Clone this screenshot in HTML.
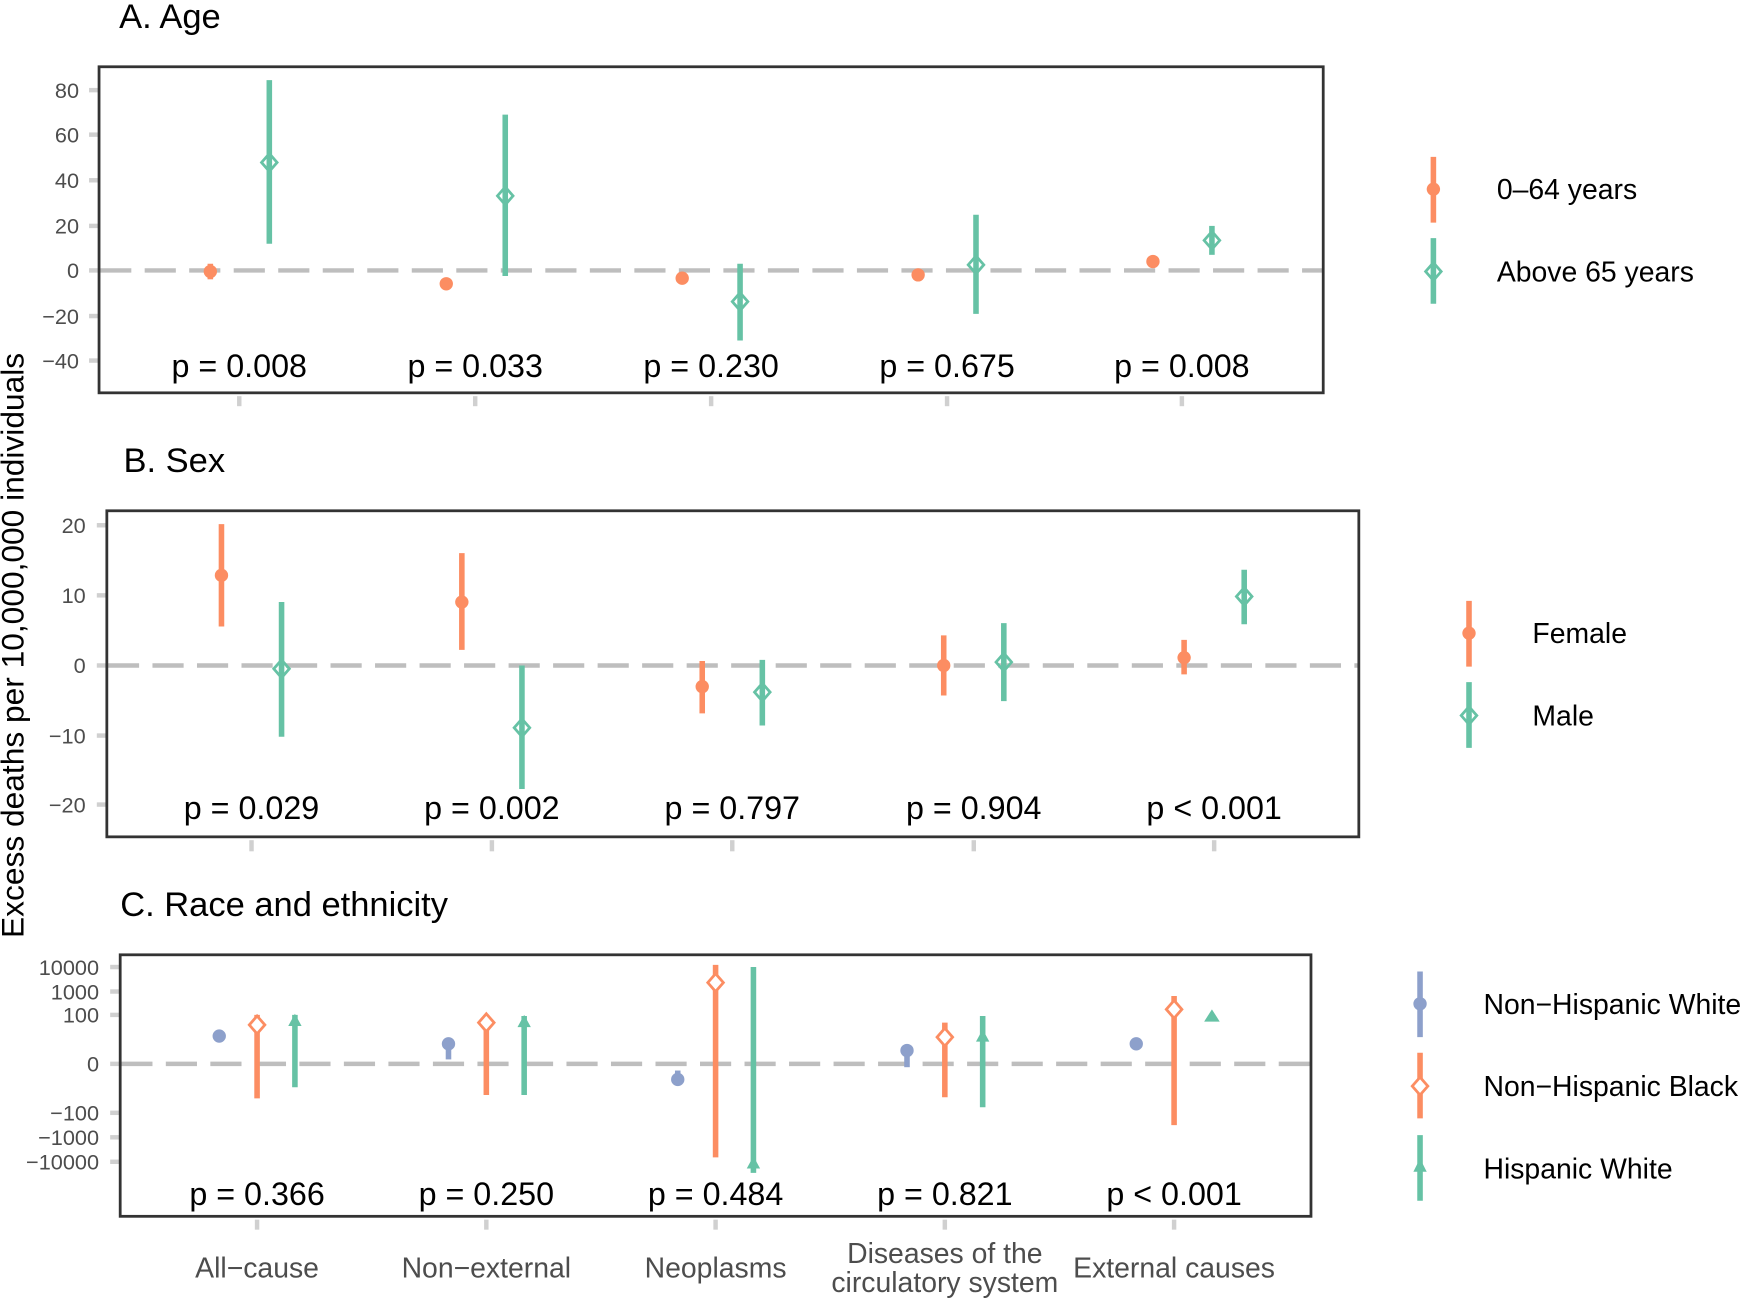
<!DOCTYPE html>
<html><head><meta charset="utf-8"><style>
html,body{margin:0;padding:0;background:#fff;}
svg{display:block;}
text{font-family:"Liberation Sans",sans-serif;}
.tk{fill:#4d4d4d;font-size:19.5px;text-anchor:end;}
.p{fill:#000;font-size:29px;text-anchor:middle;}
.ttl{fill:#000;font-size:31px;}
.lg{fill:#000;font-size:25.5px;}
.xl{fill:#4d4d4d;font-size:25.5px;text-anchor:middle;}
.fr{fill:none;stroke:#333;stroke-width:2.5;}
.zl{stroke:#bebebe;stroke-width:4;stroke-dasharray:28 12;}
.tm{stroke:#d0d0d0;stroke-width:4;}
.o{stroke:#FC8D62;stroke-width:5;}
.g{stroke:#66C2A5;stroke-width:5;}
.b{stroke:#8DA0CB;stroke-width:5;}
.dO{fill:#fff;stroke:#FC8D62;stroke-width:2.5;}
.dG{fill:none;stroke:#66C2A5;stroke-width:2.5;}
</style></head><body>
<svg width="1745" height="1299" viewBox="0 0 1568 1167.3" preserveAspectRatio="none" xmlns="http://www.w3.org/2000/svg">
<defs>
<path id="dm" d="M0,-8 L7,0 L0,8 L-7,0 Z"/>
</defs>
<text transform="translate(21,580) rotate(-90)" text-anchor="middle" font-size="28.5" fill="#000">Excess deaths per 10,000,000 individuals</text>

<!-- ===== Panel A ===== -->
<text class="ttl" x="107" y="25">A. Age</text>
<g class="tm">
<line x1="80" y1="81" x2="89" y2="81"/><line x1="80" y1="121" x2="89" y2="121"/><line x1="80" y1="162" x2="89" y2="162"/><line x1="80" y1="203" x2="89" y2="203"/><line x1="80" y1="243" x2="89" y2="243"/><line x1="80" y1="284" x2="89" y2="284"/><line x1="80" y1="324" x2="89" y2="324"/>
<line x1="215" y1="356" x2="215" y2="365"/><line x1="427" y1="356" x2="427" y2="365"/><line x1="639" y1="356" x2="639" y2="365"/><line x1="851" y1="356" x2="851" y2="365"/><line x1="1062" y1="356" x2="1062" y2="365"/>
</g>
<text class="tk" x="71" y="88">80</text><text class="tk" x="71" y="128">60</text><text class="tk" x="71" y="169">40</text><text class="tk" x="71" y="210">20</text><text class="tk" x="71" y="250">0</text><text class="tk" x="71" y="291">−20</text><text class="tk" x="71" y="331">−40</text>
<line class="zl" x1="90" y1="243" x2="1188" y2="243"/>
<line class="o" x1="189" y1="237" x2="189" y2="251"/><circle cx="189" cy="244" r="6" fill="#FC8D62"/>
<line class="g" x1="242" y1="72" x2="242" y2="219"/><use href="#dm" x="242" y="146" class="dG"/>
<circle cx="401" cy="255" r="6" fill="#FC8D62"/>
<line class="g" x1="454" y1="103" x2="454" y2="248"/><use href="#dm" x="454" y="176" class="dG"/>
<circle cx="613" cy="250" r="6" fill="#FC8D62"/>
<line class="g" x1="665" y1="237" x2="665" y2="306"/><use href="#dm" x="665" y="271" class="dG"/>
<circle cx="825" cy="247" r="6" fill="#FC8D62"/>
<line class="g" x1="877" y1="193" x2="877" y2="282"/><use href="#dm" x="877" y="238" class="dG"/>
<circle cx="1036" cy="235" r="6" fill="#FC8D62"/>
<line class="g" x1="1089" y1="203" x2="1089" y2="229"/><use href="#dm" x="1089" y="216" class="dG"/>
<text class="p" x="215" y="339">p = 0.008</text><text class="p" x="427" y="339">p = 0.033</text><text class="p" x="639" y="339">p = 0.230</text><text class="p" x="851" y="339">p = 0.675</text><text class="p" x="1062" y="339">p = 0.008</text>
<rect class="fr" x="89" y="60" width="1100" height="293"/>
<line class="o" x1="1288" y1="141" x2="1288" y2="200"/><circle cx="1288" cy="170" r="6" fill="#FC8D62"/>
<line class="g" x1="1288" y1="214" x2="1288" y2="273"/><use href="#dm" x="1288" y="244" class="dG"/>
<text class="lg" x="1345" y="179">0–64 years</text><text class="lg" x="1345" y="253">Above 65 years</text>

<!-- ===== Panel B ===== -->
<text class="ttl" x="111" y="424">B. Sex</text>
<g class="tm">
<line x1="87" y1="472" x2="96" y2="472"/><line x1="87" y1="535" x2="96" y2="535"/><line x1="87" y1="598" x2="96" y2="598"/><line x1="87" y1="661" x2="96" y2="661"/><line x1="87" y1="723" x2="96" y2="723"/>
<line x1="226" y1="755" x2="226" y2="765"/><line x1="442" y1="755" x2="442" y2="765"/><line x1="658" y1="755" x2="658" y2="765"/><line x1="875" y1="755" x2="875" y2="765"/><line x1="1091" y1="755" x2="1091" y2="765"/>
</g>
<text class="tk" x="77" y="479">20</text><text class="tk" x="77" y="542">10</text><text class="tk" x="77" y="605">0</text><text class="tk" x="77" y="668">−10</text><text class="tk" x="77" y="730">−20</text>
<line class="zl" x1="97" y1="598" x2="1220" y2="598"/>
<line class="o" x1="199" y1="471" x2="199" y2="563"/><circle cx="199" cy="517" r="6" fill="#FC8D62"/>
<line class="g" x1="253" y1="541" x2="253" y2="662"/><use href="#dm" x="253" y="601" class="dG"/>
<line class="o" x1="415" y1="497" x2="415" y2="584"/><circle cx="415" cy="541" r="6" fill="#FC8D62"/>
<line class="g" x1="469" y1="598" x2="469" y2="709"/><use href="#dm" x="469" y="654" class="dG"/>
<line class="o" x1="631" y1="594" x2="631" y2="641"/><circle cx="631" cy="617" r="6" fill="#FC8D62"/>
<line class="g" x1="685" y1="593" x2="685" y2="652"/><use href="#dm" x="685" y="622" class="dG"/>
<line class="o" x1="848" y1="571" x2="848" y2="625"/><circle cx="848" cy="598" r="6" fill="#FC8D62"/>
<line class="g" x1="902" y1="560" x2="902" y2="630"/><use href="#dm" x="902" y="595" class="dG"/>
<line class="o" x1="1064" y1="575" x2="1064" y2="606"/><circle cx="1064" cy="591" r="6" fill="#FC8D62"/>
<line class="g" x1="1118" y1="512" x2="1118" y2="561"/><use href="#dm" x="1118" y="536" class="dG"/>
<text class="p" x="226" y="736">p = 0.029</text><text class="p" x="442" y="736">p = 0.002</text><text class="p" x="658" y="736">p = 0.797</text><text class="p" x="875" y="736">p = 0.904</text><text class="p" x="1091" y="736">p &lt; 0.001</text>
<rect class="fr" x="96" y="459" width="1125" height="293"/>
<line class="o" x1="1320" y1="540" x2="1320" y2="599"/><circle cx="1320" cy="569" r="6" fill="#FC8D62"/>
<line class="g" x1="1320" y1="613" x2="1320" y2="672"/><use href="#dm" x="1320" y="643" class="dG"/>
<text class="lg" x="1377" y="578">Female</text><text class="lg" x="1377" y="652">Male</text>

<!-- ===== Panel C ===== -->
<text class="ttl" x="108" y="823">C. Race and ethnicity</text>
<g class="tm">
<line x1="99" y1="869" x2="108" y2="869"/><line x1="99" y1="891" x2="108" y2="891"/><line x1="99" y1="912" x2="108" y2="912"/><line x1="99" y1="956" x2="108" y2="956"/><line x1="99" y1="1000" x2="108" y2="1000"/><line x1="99" y1="1022" x2="108" y2="1022"/><line x1="99" y1="1044" x2="108" y2="1044"/>
<line x1="231" y1="1096" x2="231" y2="1105"/><line x1="437" y1="1096" x2="437" y2="1105"/><line x1="643" y1="1096" x2="643" y2="1105"/><line x1="849" y1="1096" x2="849" y2="1105"/><line x1="1055" y1="1096" x2="1055" y2="1105"/>
</g>
<text class="tk" x="89" y="876">10000</text><text class="tk" x="89" y="898">1000</text><text class="tk" x="89" y="919">100</text><text class="tk" x="89" y="963">0</text><text class="tk" x="89" y="1007">−100</text><text class="tk" x="89" y="1029">−1000</text><text class="tk" x="89" y="1051">−10000</text>
<line class="zl" x1="109" y1="956" x2="1177" y2="956"/>
<circle cx="197" cy="931" r="6" fill="#8DA0CB"/>
<line class="o" x1="231" y1="912" x2="231" y2="987"/><use href="#dm" x="231" y="921" class="dO"/>
<line class="g" x1="265" y1="912" x2="265" y2="977"/><path d="M265,911 L271,922 L259,922 Z" fill="#66C2A5"/>
<line class="b" x1="403" y1="938" x2="403" y2="952"/><circle cx="403" cy="938" r="6" fill="#8DA0CB"/>
<line class="o" x1="437" y1="912" x2="437" y2="984"/><use href="#dm" x="437" y="919" class="dO"/>
<line class="g" x1="471" y1="913" x2="471" y2="984"/><path d="M471,912 L477,923 L465,923 Z" fill="#66C2A5"/>
<line class="b" x1="609" y1="962" x2="609" y2="972"/><circle cx="609" cy="970" r="6" fill="#8DA0CB"/>
<line class="o" x1="643" y1="867" x2="643" y2="1040"/><use href="#dm" x="643" y="883" class="dO"/>
<line class="g" x1="677" y1="869" x2="677" y2="1054"/><path d="M677,1039 L683,1050 L671,1050 Z" fill="#66C2A5"/>
<line class="b" x1="815" y1="944" x2="815" y2="959"/><circle cx="815" cy="944" r="6" fill="#8DA0CB"/>
<line class="o" x1="849" y1="919" x2="849" y2="986"/><use href="#dm" x="849" y="932" class="dO"/>
<line class="g" x1="883" y1="913" x2="883" y2="995"/><path d="M883,925 L889,936 L877,936 Z" fill="#66C2A5"/>
<circle cx="1021" cy="938" r="6" fill="#8DA0CB"/>
<line class="o" x1="1055" y1="895" x2="1055" y2="1011"/><use href="#dm" x="1055" y="907" class="dO"/>
<path d="M1089,907 L1096,918 L1082,918 Z" fill="#66C2A5"/>
<text class="p" x="231" y="1083">p = 0.366</text><text class="p" x="437" y="1083">p = 0.250</text><text class="p" x="643" y="1083">p = 0.484</text><text class="p" x="849" y="1083">p = 0.821</text><text class="p" x="1055" y="1083">p &lt; 0.001</text>
<rect class="fr" x="108" y="858" width="1070" height="235"/>
<text class="xl" x="231" y="1148">All−cause</text><text class="xl" x="437" y="1148">Non−external</text><text class="xl" x="643" y="1148">Neoplasms</text><text class="xl" x="849" y="1135">Diseases of the</text><text class="xl" x="849" y="1161">circulatory system</text><text class="xl" x="1055" y="1148">External causes</text>
<line class="b" x1="1276" y1="873" x2="1276" y2="932"/><circle cx="1276" cy="902" r="6" fill="#8DA0CB"/>
<line class="o" x1="1276" y1="946" x2="1276" y2="1005"/><use href="#dm" x="1276" y="976" class="dO"/>
<line class="g" x1="1276" y1="1020" x2="1276" y2="1079"/><path d="M1276,1041 L1282,1053 L1270,1053 Z" fill="#66C2A5"/>
<text class="lg" x="1333" y="911">Non−Hispanic White</text><text class="lg" x="1333" y="985">Non−Hispanic Black</text><text class="lg" x="1333" y="1059">Hispanic White</text>
</svg>
</body></html>
